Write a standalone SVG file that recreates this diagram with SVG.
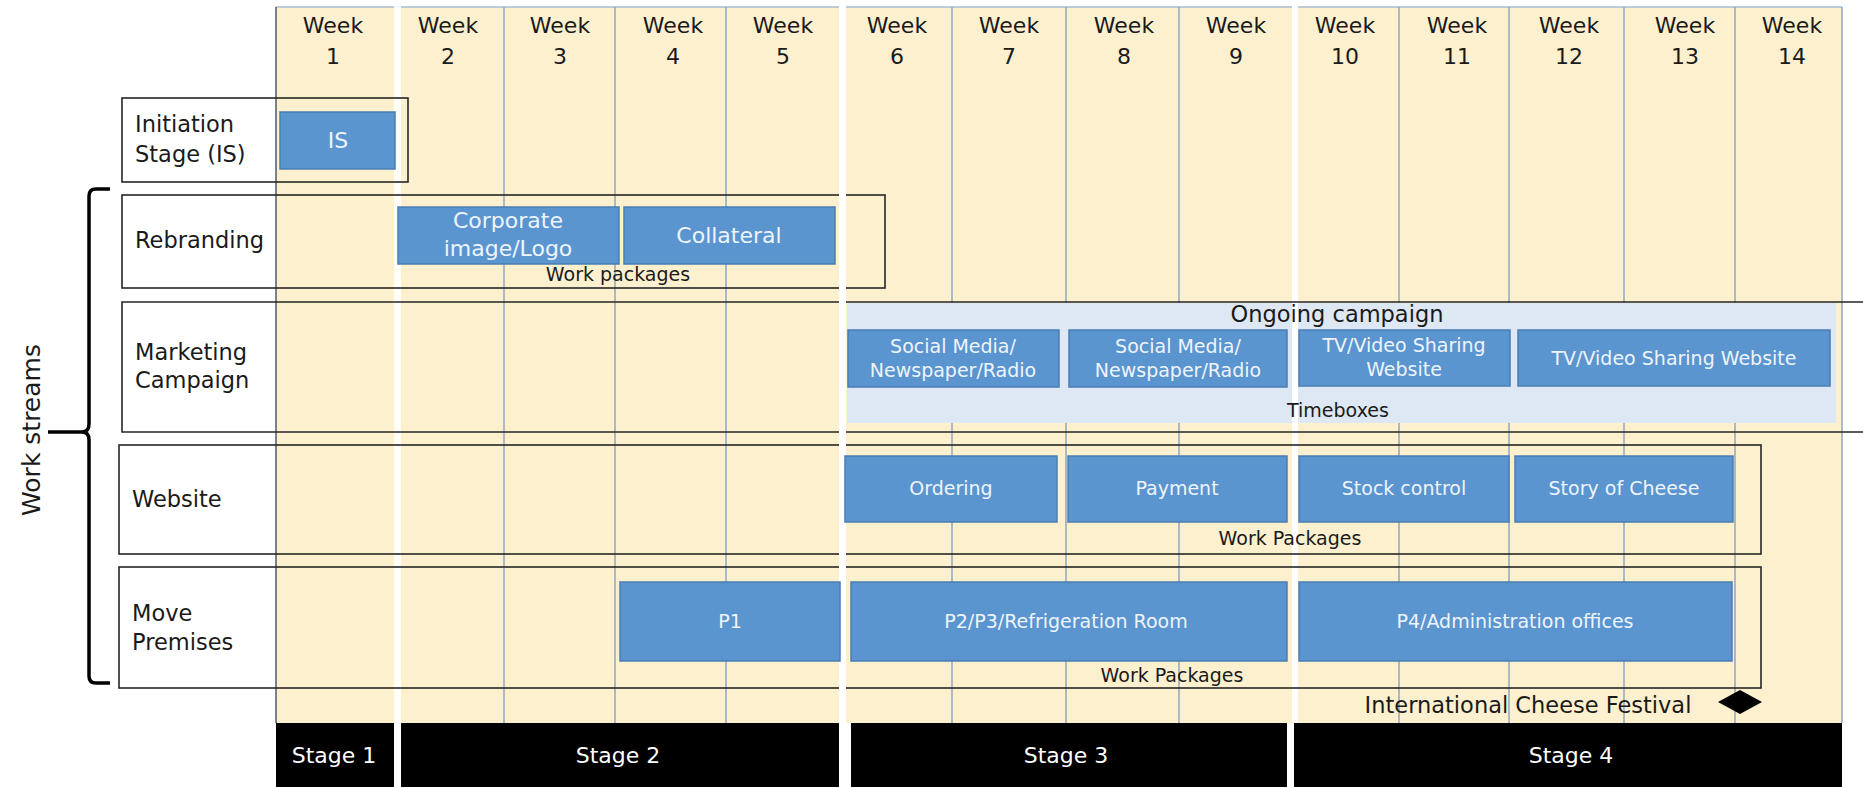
<svg xmlns="http://www.w3.org/2000/svg" width="1863" height="787" viewBox="0 0 1863 787">
<style>
text{font-family:"DejaVu Sans","Liberation Sans",sans-serif;fill:#1a1a1a}
.wk{font-size:22px;text-anchor:middle}
.lbl{font-size:22.5px}
.sm{font-size:19px;text-anchor:middle}
.bt{font-size:19px;text-anchor:middle;fill:#eef4fb}
.bt2{font-size:22px;text-anchor:middle;fill:#eef4fb}
.st{font-size:22px;text-anchor:middle;fill:#ffffff}
.blue{fill:#5b95d0;stroke:#4a7db3;stroke-width:1.5}
.frame{fill:none;stroke:#262626;stroke-width:1.6}
.grid{stroke:#8ea7bf;stroke-width:1.5}
.gap{fill:#ffffff}
</style>
<rect width="1863" height="787" fill="#ffffff"/>
<g id="grid">
<rect x="276" y="7" width="1566" height="716" fill="#fdf0cf"/>
<line x1="276" y1="7" x2="1842" y2="7" stroke="#a9bccf" stroke-width="1.5"/>
<g class="grid">
<line x1="504" y1="7" x2="504" y2="723"/>
<line x1="615" y1="7" x2="615" y2="723"/>
<line x1="726" y1="7" x2="726" y2="723"/>
<line x1="952" y1="7" x2="952" y2="723"/>
<line x1="1066" y1="7" x2="1066" y2="723"/>
<line x1="1179" y1="7" x2="1179" y2="723"/>
<line x1="1399" y1="7" x2="1399" y2="723"/>
<line x1="1509" y1="7" x2="1509" y2="723"/>
<line x1="1624" y1="7" x2="1624" y2="723"/>
<line x1="1735" y1="7" x2="1735" y2="723"/>
<line x1="1842" y1="7" x2="1842" y2="723"/>
</g>
<line x1="276" y1="7" x2="276" y2="723" stroke="#4a5a70" stroke-width="1.5"/>
</g>
<g id="ongoing-campaign">
<rect x="847" y="303" width="989" height="120" fill="#dde8f4"/>
</g>
<g id="gaps">
<rect class="gap" x="394" y="0" width="7" height="723" opacity="0.85"/>
<rect class="gap" x="1292" y="0" width="6" height="723"/>
</g>
<g id="weeks">
<text class="wk" x="333" y="33">Week</text><text class="wk" x="333" y="64">1</text>
<text class="wk" x="448" y="33">Week</text><text class="wk" x="448" y="64">2</text>
<text class="wk" x="560" y="33">Week</text><text class="wk" x="560" y="64">3</text>
<text class="wk" x="673" y="33">Week</text><text class="wk" x="673" y="64">4</text>
<text class="wk" x="783" y="33">Week</text><text class="wk" x="783" y="64">5</text>
<text class="wk" x="897" y="33">Week</text><text class="wk" x="897" y="64">6</text>
<text class="wk" x="1009" y="33">Week</text><text class="wk" x="1009" y="64">7</text>
<text class="wk" x="1124" y="33">Week</text><text class="wk" x="1124" y="64">8</text>
<text class="wk" x="1236" y="33">Week</text><text class="wk" x="1236" y="64">9</text>
<text class="wk" x="1345" y="33">Week</text><text class="wk" x="1345" y="64">10</text>
<text class="wk" x="1457" y="33">Week</text><text class="wk" x="1457" y="64">11</text>
<text class="wk" x="1569" y="33">Week</text><text class="wk" x="1569" y="64">12</text>
<text class="wk" x="1685" y="33">Week</text><text class="wk" x="1685" y="64">13</text>
<text class="wk" x="1792" y="33">Week</text><text class="wk" x="1792" y="64">14</text>
</g>
<g id="row-initiation">
<rect class="frame" x="122" y="98" width="286" height="84"/>
<text class="lbl" x="135" y="132">Initiation</text>
<text class="lbl" x="135" y="162">Stage (IS)</text>
</g>
<g id="row-rebranding">
<rect class="frame" x="122" y="195" width="763" height="93"/>
<text class="lbl" x="135" y="248">Rebranding</text>
<text class="sm" x="618" y="281">Work packages</text>
</g>
<g id="row-marketing">
<path class="frame" d="M1863,302 H122 V432 H1863"/>
<text class="lbl" x="135" y="360">Marketing</text>
<text class="lbl" x="135" y="388">Campaign</text>
<text class="lbl" x="1337" y="322" text-anchor="middle">Ongoing campaign</text>
<text class="sm" x="1338" y="417">Timeboxes</text>
</g>
<g id="row-website">
<rect class="frame" x="119" y="445" width="1642" height="109"/>
<text class="lbl" x="132" y="507">Website</text>
<text class="sm" x="1290" y="545">Work Packages</text>
</g>
<g id="row-move">
<rect class="frame" x="119" y="567" width="1642" height="121"/>
<text class="lbl" x="132" y="621">Move</text>
<text class="lbl" x="132" y="650">Premises</text>
<text class="sm" x="1172" y="682">Work Packages</text>
</g>
<g id="gap2">
<rect class="gap" x="839" y="0" width="7" height="723"/>
</g>
<g id="is"><rect class="blue" x="280" y="112" width="115" height="57"/><text class="bt2" x="338" y="148">IS</text></g>
<g id="corporate"><rect class="blue" x="398" y="207" width="221" height="57"/><text class="bt2" x="508" y="228">Corporate</text><text class="bt2" x="508" y="256">image/Logo</text></g>
<g id="collateral"><rect class="blue" x="624" y="207" width="211" height="57"/><text class="bt2" x="729" y="243">Collateral</text></g>
<g id="social1"><rect class="blue" x="848" y="330" width="211" height="57"/><text class="bt" x="953" y="353">Social Media/</text><text class="bt" x="953" y="377">Newspaper/Radio</text></g>
<g id="social2"><rect class="blue" x="1069" y="330" width="218" height="57"/><text class="bt" x="1178" y="353">Social Media/</text><text class="bt" x="1178" y="377">Newspaper/Radio</text></g>
<g id="tv1"><rect class="blue" x="1299" y="330" width="211" height="56"/><text class="bt" x="1404" y="352">TV/Video Sharing</text><text class="bt" x="1404" y="376">Website</text></g>
<g id="tv2"><rect class="blue" x="1518" y="330" width="312" height="56"/><text class="bt" x="1674" y="365">TV/Video Sharing Website</text></g>
<g id="ordering"><rect class="blue" x="845" y="456" width="212" height="66"/><text class="bt" x="951" y="495">Ordering</text></g>
<g id="payment"><rect class="blue" x="1068" y="456" width="219" height="66"/><text class="bt" x="1177" y="495">Payment</text></g>
<g id="stock"><rect class="blue" x="1299" y="456" width="210" height="66"/><text class="bt" x="1404" y="495">Stock control</text></g>
<g id="story"><rect class="blue" x="1515" y="456" width="218" height="66"/><text class="bt" x="1624" y="495">Story of Cheese</text></g>
<g id="p1"><rect class="blue" x="620" y="582" width="220" height="79"/><text class="bt" x="730" y="628">P1</text></g>
<g id="p2"><rect class="blue" x="851" y="582" width="436" height="79"/><text class="bt" x="1066" y="628">P2/P3/Refrigeration Room</text></g>
<g id="p4"><rect class="blue" x="1299" y="582" width="433" height="79"/><text class="bt" x="1515" y="628">P4/Administration offices</text></g>
<g id="festival">
<text class="lbl" x="1528" y="713" text-anchor="middle" font-size="22">International Cheese Festival</text>
<polygon points="1740,690 1762,702 1740,714 1718,702" fill="#000000"/>
</g>
<g id="stages">
<rect x="276" y="723" width="118" height="64" fill="#000"/><text class="st" x="334" y="763">Stage 1</text>
<rect x="401" y="723" width="438" height="64" fill="#000"/><text class="st" x="618" y="763">Stage 2</text>
<rect x="851" y="723" width="436" height="64" fill="#000"/><text class="st" x="1066" y="763">Stage 3</text>
<rect x="1294" y="723" width="548" height="64" fill="#000"/><text class="st" x="1571" y="763">Stage 4</text>
</g>
<g id="connectors">
<path d="M110,189 L96,189 Q89,189 89,196 L89,424 Q89,432 82,432 L48,432 M82,432 Q89,432 89,440 L89,676 Q89,683 96,683 L110,683" fill="none" stroke="#000" stroke-width="3.5"/>
</g>
<g id="work-streams">
<text x="0" y="0" font-size="25" text-anchor="middle" transform="translate(40,430) rotate(-90)">Work streams</text>
</g>
</svg>
